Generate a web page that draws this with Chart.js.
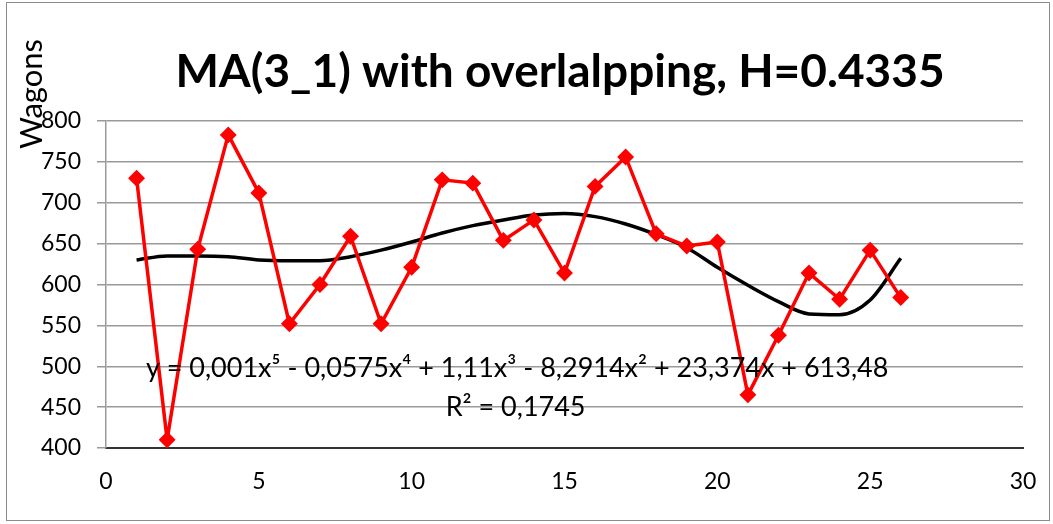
<!DOCTYPE html>
<html>
<head>
<meta charset="utf-8">
<script src="https://cdn.jsdelivr.net/npm/chart.js@4"></script>
<style>
html, body { margin: 0; padding: 0; background: #fff; }
#frame { position: absolute; left: 6px; top: 2px; width: 1042px; height: 517px; border: 1px solid #8c8c8c; }
#wrap { position: absolute; left: 0; top: 0; width: 1053px; height: 524px; }
</style>
</head>
<body>
<div id="frame"></div>
<div id="wrap"><canvas id="maChart"></canvas></div>
<script>
// Dữ liệu
const periods = [1, 2, 3, 4, 5, 6, 7, 8, 9, 10, 11, 12, 13, 14, 15, 16, 17, 18, 19, 20, 21, 22, 23, 24, 25, 26];
const wagons = [730, 410, 643, 783, 712, 552, 600, 659, 552, 621, 728, 724, 654, 679, 614, 720, 756, 662, 647, 652, 465, 538, 614, 582, 642, 584];
const trendValues = [630, 635, 635, 634, 630, 629, 629, 634, 642, 652, 663, 672, 679, 685, 687, 683, 674, 661, 645, 621, 599, 579, 564, 563, 581, 632];

const chartTitle = 'MA(3_1) with overlalpping, H=0.4335';
const yTitle = 'Wagons';
const equationText = 'y = 0,001x\u2075 - 0,0575x\u2074 + 1,11x\u00B3 - 8,2914x\u00B2 + 23,374x + 613,48';
const r2Text = 'R\u00B2 = 0,1745';

const textFont = 'Lato, "Open Sans", sans-serif';

// Plugin vẽ tiêu đề, tiêu đề trục Y và phương trình xu hướng
const annotations = {
    id: 'annotations',
    afterDatasetsDraw(chart) {
        const { ctx, scales: { x, y } } = chart;
        ctx.save();
        ctx.fillStyle = '#000';
        ctx.textAlign = 'center';

        ctx.font = 'bold 46px ' + textFont;
        ctx.textBaseline = 'alphabetic';
        ctx.fillText(chartTitle, 560, 87);

        ctx.font = '27px ' + textFont;
        ctx.textBaseline = 'middle';
        ctx.fillText(equationText, x.getPixelForValue(13.45), y.getPixelForValue(498));
        ctx.fillText(r2Text, x.getPixelForValue(13.4), y.getPixelForValue(450));

        ctx.font = '31px ' + textFont;
        ctx.translate(32, 94);
        ctx.rotate(-Math.PI / 2);
        ctx.fillText(yTitle, 0, 0);
        ctx.restore();
    }
};

const ctx = document.getElementById('maChart').getContext('2d');
new Chart(ctx, {
    type: 'scatter',
    data: {
        datasets: [
            {
                label: 'MA(3_1)',
                data: periods.map((p, i) => ({ x: p, y: wagons[i] })),
                showLine: true,
                borderColor: '#ff0000',
                backgroundColor: '#ff0000',
                borderWidth: 3.5,
                pointStyle: 'rectRot',
                pointRadius: 6,
                pointHoverRadius: 6,
                order: 1,
            },
            {
                label: 'Poly. (MA(3_1))',
                data: periods.map((p, i) => ({ x: p, y: trendValues[i] })),
                showLine: true,
                borderColor: '#000',
                borderWidth: 3.5,
                pointRadius: 0,
                tension: 0.4,
                cubicInterpolationMode: 'monotone',
                order: 2,
            },
        ],
    },
    options: {
        responsive: true,
        maintainAspectRatio: false,
        animation: false,
        layout: { padding: { left: 6, right: 30, top: 121, bottom: 30 } },
        plugins: {
            legend: { display: false },
            tooltip: { enabled: false },
        },
        scales: {
            x: {
                type: 'linear',
                min: 0,
                max: 30,
                afterFit(scale) { scale.height = 46; },
                ticks: { stepSize: 5, color: '#000', font: { family: textFont, size: 23 }, padding: 12 },
                grid: { display: false, drawTicks: true, tickLength: 8, tickColor: '#333' },
                border: { color: '#333', width: 2 },
            },
            y: {
                min: 400,
                max: 800,
                afterFit(scale) { scale.width = 100; },
                ticks: { stepSize: 50, color: '#000', font: { family: textFont, size: 23 }, padding: 16 },
                grid: { color: '#9a9a9a', lineWidth: 1.5, tickLength: 9 },
                border: { color: '#9a9a9a', width: 1.5 },
            },
        },
    },
    plugins: [annotations],
});
</script>
</body>
</html>
